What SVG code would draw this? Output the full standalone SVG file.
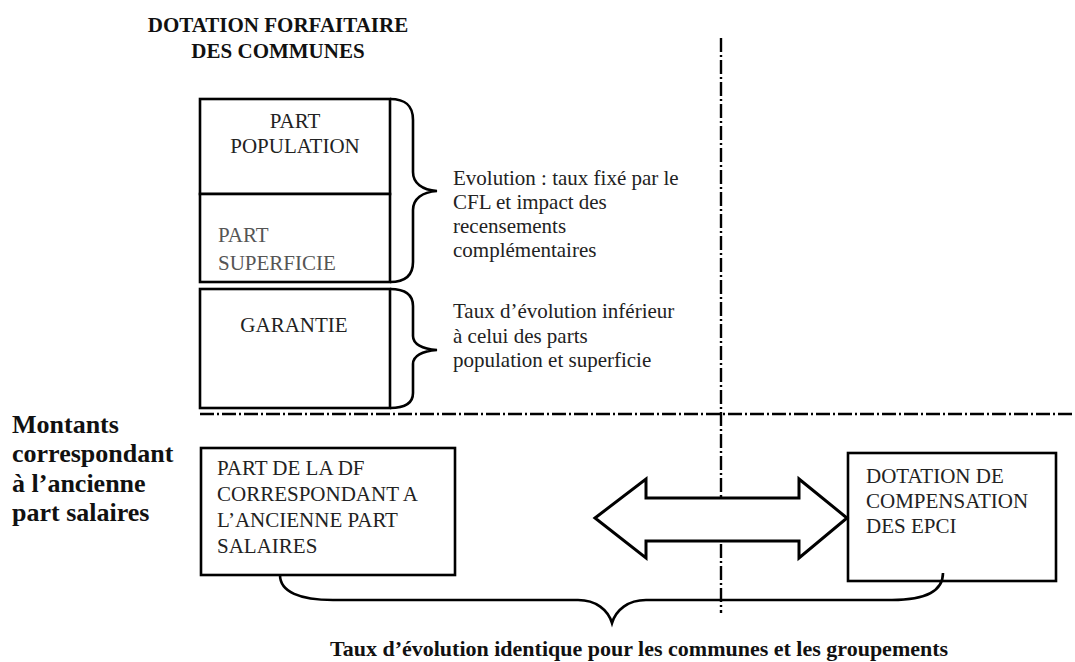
<svg xmlns="http://www.w3.org/2000/svg" width="1075" height="662" viewBox="0 0 1075 662">
<style>
.box{fill:#fff;stroke:#000;stroke-width:2.6}
.line{fill:none;stroke:#000;stroke-width:2.6}
.axis{fill:none;stroke:#000;stroke-width:2.4;stroke-dasharray:14 3 2 3}
.t{font-family:"Liberation Serif","Times New Roman",serif;font-size:21px;fill:#222}
.b{font-family:"Liberation Serif","Times New Roman",serif;font-weight:bold;fill:#111}
.c{text-anchor:middle}
</style>
<rect width="1075" height="662" fill="#fff"/>
<g id="axes">
<line class="axis" x1="200" y1="414" x2="1075" y2="414"/>
<line class="axis" x1="721" y1="38" x2="721" y2="613"/>
</g>
<g id="title">
<text class="b c" x="278" y="32" font-size="21">DOTATION FORFAITAIRE</text>
<text class="b c" x="278" y="58" font-size="21">DES COMMUNES</text>
</g>
<g id="part-population">
<rect class="box" x="200" y="99" width="190" height="95"/>
<text class="t c" x="295" y="128" font-size="20">PART</text>
<text class="t c" x="295" y="153" font-size="20">POPULATION</text>
</g>
<g id="part-superficie">
<rect class="box" x="200" y="194" width="190" height="88"/>
<text class="t" x="218" y="242" font-size="25" fill="#555" style="fill:#555">PART</text>
<text class="t" x="218" y="270" font-size="25" style="fill:#555">SUPERFICIE</text>
</g>
<g id="garantie">
<rect class="box" x="200" y="289" width="190" height="119"/>
<text class="t c" x="294" y="332" font-size="20">GARANTIE</text>
</g>
<g id="evolution-note">
<text class="t" x="453" y="185">Evolution : taux fixé par le</text>
<text class="t" x="453" y="209">CFL et impact des</text>
<text class="t" x="453" y="233">recensements</text>
<text class="t" x="453" y="257">complémentaires</text>
</g>
<g id="garantie-note">
<text class="t" x="453" y="318">Taux d’évolution inférieur</text>
<text class="t" x="453" y="343">à celui des parts</text>
<text class="t" x="453" y="367">population et superficie</text>
</g>
<g id="montants-label">
<text class="b" x="12" y="433" font-size="26">Montants</text>
<text class="b" x="12" y="462" font-size="26">correspondant</text>
<text class="b" x="12" y="492" font-size="26">à l’ancienne</text>
<text class="b" x="12" y="521" font-size="26">part salaires</text>
</g>
<g id="part-df">
<rect class="box" x="201" y="448" width="254" height="127"/>
<text class="t" x="217" y="475">PART DE LA DF</text>
<text class="t" x="217" y="501">CORRESPONDANT A</text>
<text class="t" x="217" y="527">L’ANCIENNE PART</text>
<text class="t" x="217" y="553">SALAIRES</text>
</g>
<g id="dotation-compensation">
<rect class="box" x="848" y="453" width="208" height="128"/>
<text class="t" x="866" y="483">DOTATION DE</text>
<text class="t" x="866" y="508">COMPENSATION</text>
<text class="t" x="866" y="533">DES EPCI</text>
</g>
<g id="connectors">
<path class="line" d="M390,99 C405,99 413,105 413,120 L413,172 C413,183 422,190 437,191 C422,192 413,199 413,210 L413,262 C413,276 405,282 390,282"/>
<path class="line" d="M390,289 C405,289 413,294 413,306 L413,336 C413,344 422,349 437,350 C422,351 413,356 413,364 L413,393 C413,403 405,408 390,408"/>
<path d="M595,518 L646,479 L646,498 L799,498 L799,479 L847,518 L799,558 L799,541 L646,541 L646,558 Z" fill="#fff" stroke="#000" stroke-width="3" stroke-linejoin="miter"/>
<path class="line" d="M280,575 C280,592 300,600 333,600 L578,600 C596,600 608,610 612,623 C616,610 628,600 646,600 L892,600 C925,600 943,592 943,573"/>
</g>
<g id="bottom-label">
<text class="b" x="330" y="656" font-size="22">Taux d’évolution identique pour les communes et les groupements</text>
</g>
</svg>
